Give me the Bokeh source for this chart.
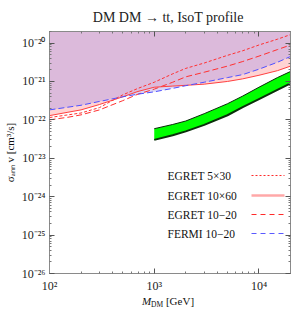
import numpy as np
from bokeh.plotting import figure
from bokeh.models import LogAxis, Label, Arrow, FixedTicker, Div
from bokeh.layouts import column
from bokeh.embed import file_html
from bokeh.resources import INLINE

# ---------------- data ----------------
mass = [100, 150, 200, 300, 500, 700, 1000, 1500, 2000, 3000, 5000, 7000, 10000, 15000, 20000]
fermi_10_20 = [1.82e-22, 2.14e-22, 2.40e-22, 3.02e-22, 3.98e-22, 4.68e-22, 5.37e-22, 6.61e-22,
               7.76e-22, 9.55e-22, 1.26e-21, 1.51e-21, 2.09e-21, 3.16e-21, 4.47e-21]
egret_10x60 = [1.29e-22, 1.58e-22, 1.82e-22, 2.51e-22, 3.98e-22, 5.50e-22, 7.08e-22, 7.59e-22,
               7.94e-22, 8.51e-22, 1.00e-21, 1.17e-21, 1.45e-21, 1.91e-21, 2.51e-21]
egret_5x30 = [1.15e-22, 1.35e-22, 1.51e-22, 2.09e-22, 4.47e-22, 6.61e-22, 9.55e-22, 1.58e-21,
              2.19e-21, 3.02e-21, 4.79e-21, 6.31e-21, 8.91e-21, 1.26e-20, 1.66e-20]
egret_10_20 = [1.00e-22, 1.17e-22, 1.35e-22, 1.82e-22, 3.16e-22, 4.68e-22, 6.31e-22, 9.55e-22,
               1.32e-21, 1.74e-21, 2.51e-21, 3.31e-21, 4.57e-21, 6.76e-21, 8.91e-21]

band_mass = [1000, 1500, 2000, 3000, 5000, 7000, 10000, 15000, 20000]
band_upper = [5.89e-23, 7.59e-23, 9.33e-23, 1.45e-22, 2.63e-22, 4.17e-22, 7.08e-22, 1.26e-21, 1.82e-21]
band_lower = [3.02e-23, 3.98e-23, 5.01e-23, 7.41e-23, 1.32e-22, 2.14e-22, 3.47e-22, 6.03e-22, 8.91e-22]

x_ticks = [100, 1000, 10000]
x_tick_labels = ["10\u00b2", "10\u00b3", "10\u2074"]
y_ticks = [1e-26, 1e-25, 1e-24, 1e-23, 1e-22, 1e-21, 1e-20]
y_tick_labels = ["10\u207b\u00b2\u2076", "10\u207b\u00b2\u2075", "10\u207b\u00b2\u2074",
                 "10\u207b\u00b2\u00b3", "10\u207b\u00b2\u00b2", "10\u207b\u00b2\u00b9",
                 "10\u207b\u00b2\u2070"]

legend_labels = ["EGRET 5\u00d730", "EGRET 10\u00d760", "EGRET 10\u221220", "FERMI 10\u221220"]
title_text = "DM DM \u2192 tt,  IsoT profile"
y_label = "\u03c3\u2090\u2099\u2099 v [cm\u00b3/s]"
x_label_html = ("<i>M</i><span style='font-size:7.5px;position:relative;top:2px'>DM</span>"
                " [GeV]")

X_MIN, X_MAX = 100, 2e4
Y_MIN, Y_MAX = 1e-26, 2e-20

SERIF = "Liberation Serif"

# ---------------- figure ----------------
p = figure(width=294, height=295, x_axis_type="log", y_axis_type="log",
           x_range=(X_MIN, X_MAX), y_range=(Y_MIN, Y_MAX),
           output_backend="svg", toolbar_location=None,
           min_border_left=45, min_border_right=4, min_border_top=31, min_border_bottom=18)
p.grid.visible = False
p.outline_line_color = "#8a8a8a"
p.background_fill_color = "white"

p.title.text = title_text
p.title.align = "center"
p.title.vertical_align = "top"
p.title.text_font = SERIF
p.title.text_font_size = "14px"
p.title.text_font_style = "normal"
p.title.text_color = "#222222"
p.title.standoff = 10

# exclusion fills
top = [Y_MAX] * len(mass)
both = list(np.maximum(np.array(egret_10x60), np.array(fermi_10_20)))
p.varea(x=mass, y1=egret_10x60, y2=top, fill_color="#ffd3d3")
p.varea(x=mass, y1=fermi_10_20, y2=top, fill_color="#d9d6f7")
p.varea(x=mass, y1=both, y2=top, fill_color="#dcbadb")

# green band
p.varea(x=band_mass, y1=band_lower, y2=band_upper, fill_color="#00ff00")
p.line(band_mass, band_upper, line_color="#0a2a0a", line_width=1)
p.line(band_mass, band_lower, line_color="#0a300a", line_width=2)

# constraint lines
p.line(mass, egret_5x30, line_color="#ff3030", line_width=1, line_dash="3 2")
p.line(mass, egret_10_20, line_color="#ff3030", line_width=1, line_dash="6 3")
p.line(mass, egret_10x60, line_color="#ff4040", line_width=1)
p.line(mass, fermi_10_20, line_color="#5050ff", line_width=1, line_dash="6 3")

# ---------------- axes ----------------
minor_x = [k * 10.0 ** e for e in range(2, 5) for k in range(2, 10)]
minor_y = [k * 10.0 ** e for e in range(-26, -19) for k in range(2, 10)]

def style_axis(ax, ticks, minors, labels=None):
    ax.ticker = FixedTicker(ticks=ticks, minor_ticks=minors)
    ax.axis_line_color = "#8a8a8a"
    ax.major_tick_line_color = "#555555"
    ax.minor_tick_line_color = "#777777"
    ax.major_tick_in = 5
    ax.major_tick_out = 0
    ax.minor_tick_in = 2
    ax.minor_tick_out = 0
    if labels is None:
        ax.major_label_text_color = None
        ax.major_label_text_font_size = "2px"
        ax.major_label_standoff = 0
    else:
        ax.major_label_overrides = {t: l for t, l in zip(ticks, labels)}
        ax.major_label_text_font = SERIF
        ax.major_label_text_font_size = "12px"
        ax.major_label_text_color = "#222222"

style_axis(p.xaxis[0], x_ticks, minor_x, x_tick_labels)
p.xaxis[0].major_label_standoff = 5
style_axis(p.yaxis[0], y_ticks, minor_y, y_tick_labels)
p.yaxis[0].major_label_standoff = 4
p.yaxis[0].axis_label = y_label
p.yaxis[0].axis_label_text_font = SERIF
p.yaxis[0].axis_label_text_font_size = "11px"
p.yaxis[0].axis_label_text_font_style = "normal"
p.yaxis[0].axis_label_text_color = "#111111"
p.yaxis[0].axis_label_standoff = 3

top_ax = LogAxis()
style_axis(top_ax, x_ticks, minor_x)
p.add_layout(top_ax, "above")
right_ax = LogAxis()
style_axis(right_ax, y_ticks, minor_y)
p.add_layout(right_ax, "right")

# ---------------- legend (screen units relative to frame bottom-left) ----------------
FL, FB = 45, 277   # frame left / bottom in page pixels

leg_y = [179, 199, 218, 237]
leg_style = [("#ff2a2a", 1, "2 2"), ("#ffa8a8", 2.5, "solid"), ("#ff2a2a", 1.2, "5 4"), ("#5a5aff", 1.2, "5 4")]
for lab, iy, (col, w, dash) in zip(legend_labels, leg_y, leg_style):
    p.add_layout(Label(x=163 - FL, y=FB - iy, x_units="screen", y_units="screen", text=lab,
                       text_font=SERIF, text_font_size="11.5px", text_align="left",
                       text_baseline="middle", text_color="#111111"))
    p.add_layout(Arrow(x_start=247 - FL, y_start=FB - iy, x_end=280 - FL, y_end=FB - iy,
                       start_units="screen", end_units="screen", end=None,
                       line_color=col, line_width=w, line_dash=dash))

xlab = Div(text=x_label_html, width=246, height=14, margin=(0, 0, 0, 45),
           styles={"font-family": SERIF, "font-size": "11px", "text-align": "center",
                   "line-height": "12px", "color": "#111111"})

layout = column(p, xlab, spacing=0)
open("out.html", "w").write(file_html(layout, INLINE))
